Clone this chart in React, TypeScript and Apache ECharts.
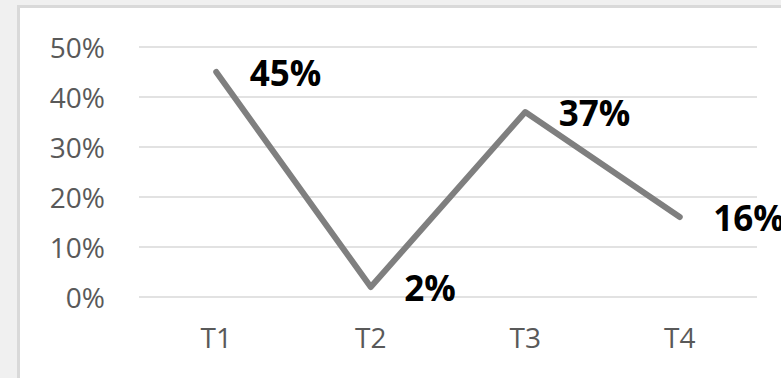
import React, { useEffect, useRef } from "react";
import * as echarts from "echarts";

const categories = ["T1", "T2", "T3", "T4"];
const values = [0.45, 0.02, 0.37, 0.16];
const yTicks = { min: 0, max: 0.5, interval: 0.1 };

const pct = (v: number) => `${Math.round(v * 100)}%`;

export default function App() {
  const ref = useRef<HTMLDivElement>(null);
  useEffect(() => {
    if (!ref.current) return;
    const chart = echarts.init(ref.current, undefined, { renderer: "svg" });
    chart.setOption({
      animation: false,
      backgroundColor: "transparent",
      grid: { left: 139, right: 24, top: 47, bottom: 81, containLabel: false },
      xAxis: {
        type: "category",
        data: categories,
        boundaryGap: true,
        axisLine: { show: false },
        axisTick: { show: false },
        axisLabel: {
          color: "#595959",
          fontSize: 28,
          fontFamily: "Open Sans",
          margin: 26,
        },
      },
      yAxis: {
        type: "value",
        min: yTicks.min,
        max: yTicks.max,
        interval: yTicks.interval,
        axisLine: { show: false },
        axisTick: { show: false },
        splitLine: { lineStyle: { color: "#d9d9d9", width: 1.5 } },
        axisLabel: {
          color: "#595959",
          fontSize: 28,
          fontFamily: "Open Sans",
          margin: 34,
          formatter: (v: number) => pct(v),
        },
      },
      series: [
        {
          type: "line",
          data: values,
          showSymbol: true,
          symbol: "circle",
          symbolSize: 1,
          itemStyle: { color: "rgba(0,0,0,0)", borderWidth: 0 },
          lineStyle: { color: "#7f7f7f", width: 6, cap: "round", join: "round" },
          label: {
            show: true,
            position: "right",
            distance: 33,
            color: "#000000",
            fontWeight: "bold",
            fontSize: 35,
            fontFamily: "Open Sans",
            formatter: (p: any) => pct(p.value),
          },
        },
      ],
    });
    return () => chart.dispose();
  }, []);

  return (
    <div
      style={{
        position: "absolute",
        left: 0,
        top: 0,
        width: 781,
        height: 378,
        background: "#f0f0f0",
        overflow: "hidden",
      }}
    >
      <div
        style={{
          position: "absolute",
          left: 17,
          top: 5,
          width: 800,
          height: 400,
          background: "#ffffff",
          border: "3px solid #d9d9d9",
        }}
      />
      <div
        ref={ref}
        style={{ position: "absolute", left: 0, top: 0, width: 781, height: 378 }}
      />
    </div>
  );
}
